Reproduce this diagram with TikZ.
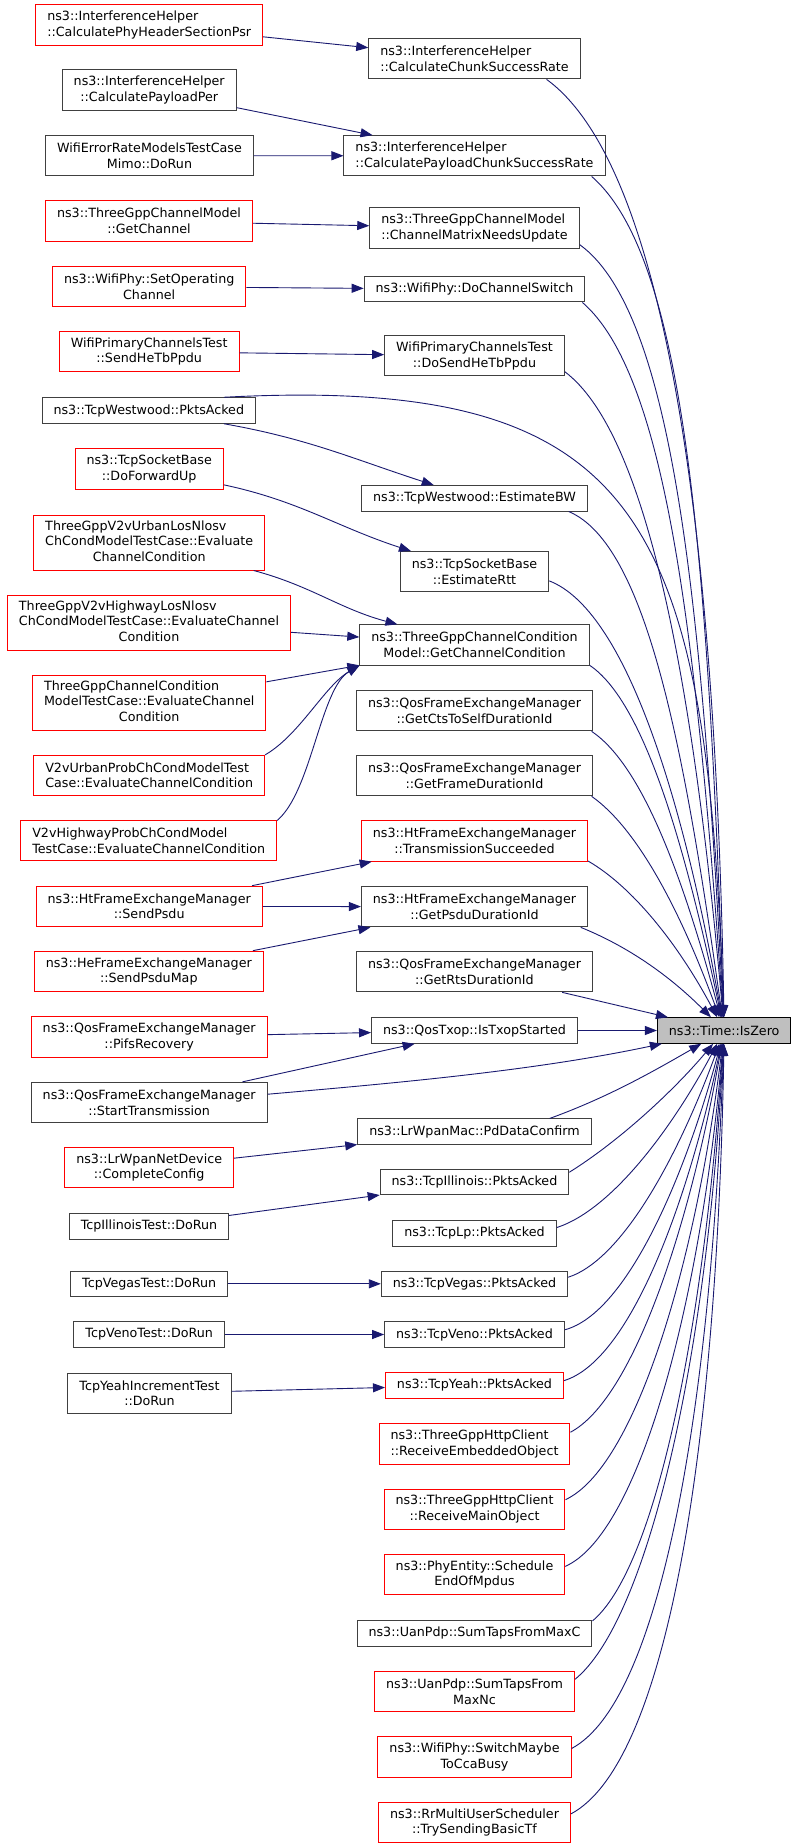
\documentclass[tikz,border=0pt]{standalone}
\usepackage{fontspec}
\setmainfont{DejaVu Sans}
\usepackage{tikz}
\usetikzlibrary{arrows.meta}

\definecolor{midblue}{HTML}{191970}
\definecolor{boxgrey}{HTML}{404040}
\definecolor{zerofill}{HTML}{BFBFBF}
\newcommand{\lastc}[1]{\multicolumn{1}{@{}c@{}}{#1}}

\begin{document}
\begin{tikzpicture}[x=1pt,y=1pt,
fn/.style={rectangle, draw=boxgrey, fill=white, line width=1pt, inner xsep=11.5pt, inner ysep=3pt, minimum height=25.5pt, align=center, font={\fontsize{12.7}{15.5}\selectfont}},
fnred/.style={fn, draw=red},
two/.style={minimum height=40.3pt},
three/.style={minimum height=55pt},
calls/.style={draw=midblue, line width=0.9pt, -{Triangle[length=12pt,width=9pt]}}
]
\useasboundingbox (0,0) rectangle (797,-1848);
\fill[white] (0,0) rectangle (797,-1848);

%Callers
\node[fnred,two,align=left] (phyhdr) at (149.2,-25) {ns3::InterferenceHelper\\::CalculatePhyHeaderSectionPsr};
\node[fn,two] (payper) at (149.2,-90) {ns3::InterferenceHelper\\::CalculatePayloadPer};
\node[fn,two] (mimo) at (149.5,-155.7) {WifiErrorRateModelsTestCase\\Mimo::DoRun};
\node[fnred,two] (getch) at (149,-221) {ns3::ThreeGppChannelModel\\::GetChannel};
\node[fnred,two] (setop) at (149.2,-286.7) {ns3::WifiPhy::SetOperating\\Channel};
\node[fnred,two] (sendtb) at (149.2,-351.7) {WifiPrimaryChannelsTest\\::SendHeTbPpdu};
\node[fn] (twpa) at (148.8,-410.5) {ns3::TcpWestwood::PktsAcked};
\node[fnred,two] (dfu) at (149.2,-469) {ns3::TcpSocketBase\\::DoForwardUp};
\node[fnred,three] (v2vul) at (149.2,-542.5) {\begin{tabular}{@{}l@{}}ThreeGppV2vUrbanLosNlosv\\ChCondModelTestCase::Evaluate\\\lastc{ChannelCondition}\end{tabular}};
\node[fnred,three] (v2vhl) at (149,-622.5) {\begin{tabular}{@{}l@{}}ThreeGppV2vHighwayLosNlosv\\ChCondModelTestCase::EvaluateChannel\\\lastc{Condition}\end{tabular}};
\node[fnred,three] (tgcc) at (149.2,-702.5) {\begin{tabular}{@{}l@{}}ThreeGppChannelCondition\\ModelTestCase::EvaluateChannel\\\lastc{Condition}\end{tabular}};
\node[fnred,two,align=left] (v2vup) at (149.2,-775.5) {V2vUrbanProbChCondModelTest\\Case::EvaluateChannelCondition};
\node[fnred,two,align=left] (v2vhp) at (148.7,-840.8) {V2vHighwayProbChCondModel\\TestCase::EvaluateChannelCondition};
\node[fnred,two] (sendpsdu) at (149.2,-906.3) {ns3::HtFrameExchangeManager\\::SendPsdu};
\node[fnred,two] (psdumap) at (148.8,-971.3) {ns3::HeFrameExchangeManager\\::SendPsduMap};
\node[fnred,two] (pifs) at (149.2,-1037) {ns3::QosFrameExchangeManager\\::PifsRecovery};
\node[fn,two] (starttx) at (149.2,-1102.5) {ns3::QosFrameExchangeManager\\::StartTransmission};
\node[fnred,two] (compcfg) at (149.2,-1167.5) {ns3::LrWpanNetDevice\\::CompleteConfig};
\node[fn] (illtest) at (149,-1226.3) {TcpIllinoisTest::DoRun};
\node[fn] (vegtest) at (149.2,-1283.8) {TcpVegasTest::DoRun};
\node[fn] (vntest) at (149.2,-1334.5) {TcpVenoTest::DoRun};
\node[fn,two] (yhtest) at (149.5,-1393.3) {TcpYeahIncrementTest\\::DoRun};

%Middle column
\node[fn,two,align=left] (chunk) at (474.5,-58.7) {ns3::InterferenceHelper\\::CalculateChunkSuccessRate};
\node[fn,two,align=left] (paychunk) at (474.5,-155.8) {ns3::InterferenceHelper\\::CalculatePayloadChunkSuccessRate};
\node[fn,two,align=left] (matrix) at (474.5,-228) {ns3::ThreeGppChannelModel\\::ChannelMatrixNeedsUpdate};
\node[fn] (chswitch) at (474.5,-289.2) {ns3::WifiPhy::DoChannelSwitch};
\node[fn,two] (dosendtb) at (474.5,-355.8) {WifiPrimaryChannelsTest\\::DoSendHeTbPpdu};
\node[fn] (estbw) at (474.5,-498.3) {ns3::TcpWestwood::EstimateBW};
\node[fn,two] (estrtt) at (474.5,-571.7) {ns3::TcpSocketBase\\::EstimateRtt};
\node[fn,two] (getcc) at (474.5,-645) {ns3::ThreeGppChannelCondition\\Model::GetChannelCondition};
\node[fn,two] (ctsself) at (474.5,-710.7) {ns3::QosFrameExchangeManager\\::GetCtsToSelfDurationId};
\node[fn,two] (framedur) at (474.5,-775.7) {ns3::QosFrameExchangeManager\\::GetFrameDurationId};
\node[fnred,two] (txsucc) at (474.5,-841) {ns3::HtFrameExchangeManager\\::TransmissionSucceeded};
\node[fn,two] (psdudur) at (474.5,-906.7) {ns3::HtFrameExchangeManager\\::GetPsduDurationId};
\node[fn,two] (rtsdur) at (474.5,-971.7) {ns3::QosFrameExchangeManager\\::GetRtsDurationId};
\node[fn] (txop) at (474.5,-1030.5) {ns3::QosTxop::IsTxopStarted};
\node[fn] (pdconf) at (474.5,-1131.7) {ns3::LrWpanMac::PdDataConfirm};
\node[fn] (illinois) at (474.5,-1182.2) {ns3::TcpIllinois::PktsAcked};
\node[fn] (lp) at (474.5,-1233.3) {ns3::TcpLp::PktsAcked};
\node[fn] (vegas) at (474.5,-1283.8) {ns3::TcpVegas::PktsAcked};
\node[fn] (veno) at (474.5,-1334.5) {ns3::TcpVeno::PktsAcked};
\node[fnred] (yeah) at (474.5,-1385.3) {ns3::TcpYeah::PktsAcked};
\node[fnred,two,align=left] (embobj) at (474.5,-1444) {ns3::ThreeGppHttpClient\\::ReceiveEmbeddedObject};
\node[fnred,two] (mainobj) at (474.5,-1509.2) {ns3::ThreeGppHttpClient\\::ReceiveMainObject};
\node[fnred,two] (sched) at (474.5,-1574.3) {ns3::PhyEntity::Schedule\\EndOfMpdus};
\node[fn] (maxc) at (474.5,-1633.3) {ns3::UanPdp::SumTapsFromMaxC};
\node[fnred,two] (maxnc) at (474.5,-1691.7) {ns3::UanPdp::SumTapsFrom\\MaxNc};
\node[fnred,two] (ccabusy) at (474.5,-1757) {ns3::WifiPhy::SwitchMaybe\\ToCcaBusy};
\node[fnred,two] (basictf) at (474.5,-1822.3) {ns3::RrMultiUserScheduler\\::TrySendingBasicTf};

%Callee
\node[fn,draw=black,fill=zerofill] (zero) at (724.2,-1030.5) {ns3::Time::IsZero};

%Lines left -> middle
\draw[calls] (phyhdr) -- (chunk);
\draw[calls] (payper) -- (paychunk);
\draw[calls] (mimo) -- (paychunk);
\draw[calls] (getch) -- (matrix);
\draw[calls] (setop) -- (chswitch);
\draw[calls] (sendtb) -- (dosendtb);
\draw[calls] (twpa) to[out=-10,in=162] (estbw);
\draw[calls] (dfu) to[out=-12,in=162] (estrtt);
\draw[calls] (v2vul) to[out=-15,in=165] (getcc);
\draw[calls] (v2vhl) -- (getcc);
\draw[calls] (tgcc) -- (getcc);
\draw[calls] (v2vup.north east) to[out=30,in=-150,distance=40pt] (getcc.south west);
\draw[calls] (v2vhp.9) to[out=40,in=-150,distance=45pt] (getcc.south west);
\draw[calls] (sendpsdu) -- (txsucc);
\draw[calls] (sendpsdu) -- (psdudur);
\draw[calls] (psdumap) -- (psdudur);
\draw[calls] (pifs) -- (txop);
\draw[calls] (starttx) -- (txop);
\draw[calls] (compcfg) -- (pdconf);
\draw[calls] (illtest) -- (illinois);
\draw[calls] (vegtest) -- (vegas);
\draw[calls] (vntest) -- (veno);
\draw[calls] (yhtest) -- (yeah);

%Lines -> IsZero
\draw[calls] (twpa.10) to[out=3,in=92,out distance=420pt,in distance=500pt] (zero);
\draw[calls] (chunk.-16) to[out=-36,in=91,out distance=140pt,in distance=520pt] (zero);
\draw[calls] (paychunk.-10) to[out=-41,in=92,out distance=125pt,in distance=460pt] (zero);
\draw[calls] (matrix.-9) to[out=-36,in=93,out distance=115pt,in distance=420pt] (zero);
\draw[calls] (chswitch.-7) to[out=-41,in=94,out distance=110pt,in distance=390pt] (zero);
\draw[calls] (dosendtb.-10) to[out=-37,in=95,out distance=100pt,in distance=350pt] (zero);
\draw[calls] (estbw.-8) to[out=-23,in=98,out distance=85pt,in distance=270pt] (zero);
\draw[calls] (estrtt.-7) to[out=-21,in=100,out distance=80pt,in distance=230pt] (zero);
\draw[calls] (getcc.-10) to[out=-34,in=102,out distance=65pt,in distance=180pt] (zero);
\draw[calls] (ctsself.-10) to[out=-34,in=105,out distance=60pt,in distance=150pt] (zero);
\draw[calls] (framedur.-10) to[out=-35,in=110,out distance=55pt,in distance=115pt] (zero);
\draw[calls] (txsucc.-10) to[out=-30,in=118,out distance=50pt,in distance=85pt] (zero);
\draw[calls] (psdudur.-11) to[out=-22,in=135,out distance=50pt,in distance=60pt] (zero);
\draw[calls] (rtsdur) -- (zero);
\draw[calls] (txop) -- (zero);
\draw[calls] (starttx.4) to[out=5,in=192,out distance=130pt,in distance=130pt] (zero);
\draw[calls] (pdconf.10) to[out=20,in=-150,out distance=60pt,in distance=60pt] (zero);
\draw[calls] (illinois.6) to[out=32,in=-130,out distance=60pt,in distance=60pt] (zero);
\draw[calls] (lp.4) to[out=18,in=-118,out distance=60pt,in distance=90pt] (zero);
\draw[calls] (vegas.4) to[out=18,in=-110,out distance=60pt,in distance=110pt] (zero);
\draw[calls] (veno.3) to[out=15,in=-105,out distance=65pt,in distance=135pt] (zero);
\draw[calls] (yeah.3) to[out=17,in=-102,out distance=70pt,in distance=160pt] (zero);
\draw[calls] (embobj.7) to[out=28,in=-100,out distance=70pt,in distance=190pt] (zero);
\draw[calls] (mainobj.6) to[out=25,in=-97,out distance=75pt,in distance=230pt] (zero);
\draw[calls] (sched.5) to[out=24,in=-95,out distance=80pt,in distance=265pt] (zero);
\draw[calls] (maxc.6) to[out=40,in=-94,out distance=80pt,in distance=300pt] (zero);
\draw[calls] (maxnc.7) to[out=39,in=-93,out distance=90pt,in distance=330pt] (zero);
\draw[calls] (ccabusy.5) to[out=28,in=-92,out distance=100pt,in distance=370pt] (zero);
\draw[calls] (basictf.5) to[out=28,in=-91,out distance=110pt,in distance=400pt] (zero);
\end{tikzpicture}
\end{document}
